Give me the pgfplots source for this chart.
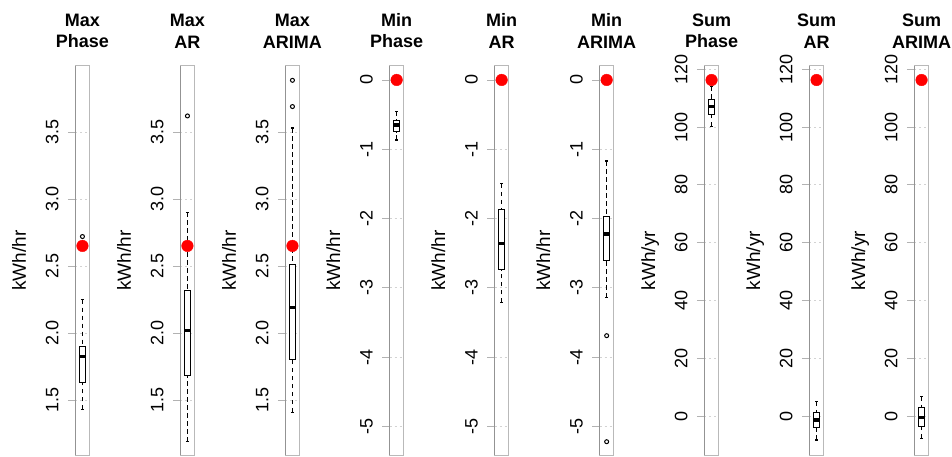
\documentclass[border=0pt]{standalone}
\usepackage{pgfplots}
\pgfplotsset{compat=1.18}
\usepgfplotslibrary{statistics}
\usepackage{fontspec}
\setmainfont{Liberation Sans}
\definecolor{rred}{RGB}{255,0,0}
\pgfplotsset{
  rpanel/.style={
    scale only axis, width=14.3pt, height=389.8pt,
    anchor=south west,
    xmin=0.5, xmax=1.5, xtick=\empty,
    ytick pos=left, tick align=outside, major tick length=7.5pt,
    every y tick/.style={gray!60, line width=0.9pt},
    ymajorgrids, major grid style={gray!35, line width=0.9pt, dash pattern=on 2pt off 3pt},
    axis line style={gray!55, line width=0.9pt},
    yticklabel style={rotate=90, anchor=base, inner sep=0pt, font=\fontsize{18}{18}\selectfont},
    yticklabel shift=9.5pt,
    ylabel style={at={(axis description cs:-3.45,0.5)}, anchor=base, inner sep=0pt, font=\fontsize{19}{19}\selectfont},
    title style={align=center, font=\bfseries\fontsize{18}{21.5}\selectfont, at={(axis description cs:0.5,1)}, anchor=south, inner sep=0pt, yshift=11.4pt},
    after end axis/.code={\draw[gray!85, line width=0.9pt] (axis description cs:0,0) -- (axis description cs:0,1);},
  },
  rbox/.style={
    boxplot/draw direction=y,
    boxplot/draw position=1,
    boxplot/box extend=0.42,
    boxplot/whisker extend=0.21,
    boxplot/every box/.style={draw=black, line width=1.1pt, fill=white},
    boxplot/every median/.style={draw=black, line width=3.4pt},
    boxplot/every whisker/.style={draw=black, line width=1.1pt, dash pattern=on 4.5pt off 3.5pt},
    boxplot/draw/lower whisker/.code={%
      \draw[/pgfplots/boxplot/every whisker/.try]
        (boxplot cs:\pgfplotsboxplotvalue{lower whisker}) -- (boxplot cs:\pgfplotsboxplotvalue{lower quartile});
      \draw[black, line width=1.1pt]
        (boxplot whisker cs:\pgfplotsboxplotvalue{lower whisker},0) -- (boxplot whisker cs:\pgfplotsboxplotvalue{lower whisker},1);
    },
    boxplot/draw/upper whisker/.code={%
      \draw[/pgfplots/boxplot/every whisker/.try]
        (boxplot cs:\pgfplotsboxplotvalue{upper whisker}) -- (boxplot cs:\pgfplotsboxplotvalue{upper quartile});
      \draw[black, line width=1.1pt]
        (boxplot whisker cs:\pgfplotsboxplotvalue{upper whisker},0) -- (boxplot whisker cs:\pgfplotsboxplotvalue{upper whisker},1);
    },
    black, mark=o, mark size=2pt, mark options={solid, black, line width=1pt},
  },
  rdot/.style={only marks, mark=*, mark size=5.8pt, color=rred, mark options={fill=rred, draw=rred}},
  maxax/.style={ymin=1.086, ymax=3.995, ytick={1.5,2,2.5,3,3.5}, yticklabels={1.5,2.0,2.5,3.0,3.5}, ylabel={kWh/hr}},
  minax/.style={ymin=-5.419, ymax=0.206, ytick={-5,-4,-3,-2,-1,0}, yticklabels={-5,-4,-3,-2,-1,0}, ylabel={kWh/hr}},
  sumax/.style={ymin=-13.67, ymax=121.25, ytick={0,20,40,60,80,100,120}, yticklabels={0,20,40,60,80,100,120}, ylabel={kWh/yr}},
}
\begin{document}
\begin{tikzpicture}
\useasboundingbox (0,0) rectangle (952pt,457pt);
% Max Phase
\begin{axis}[rpanel, maxax, at={(75.3pt,1.5pt)}, title={Max\\Phase}]
\addplot[rbox, boxplot prepared={lower whisker=1.43, lower quartile=1.63, median=1.825, upper quartile=1.90, upper whisker=2.25}] coordinates {(0,2.72)};
\addplot[rdot] coordinates {(1,2.65)};
\end{axis}
% Max AR
\begin{axis}[rpanel, maxax, at={(180.3pt,1.5pt)}, title={Max\\AR}]
\addplot[rbox, boxplot prepared={lower whisker=1.19, lower quartile=1.68, median=2.017, upper quartile=2.32, upper whisker=2.90}] coordinates {(0,3.62)};
\addplot[rdot] coordinates {(1,2.65)};
\end{axis}
% Max ARIMA
\begin{axis}[rpanel, maxax, at={(285.3pt,1.5pt)}, title={Max\\ARIMA}]
\addplot[rbox, boxplot prepared={lower whisker=1.41, lower quartile=1.80, median=2.19, upper quartile=2.51, upper whisker=3.53}] coordinates {(0,3.69) (0,3.886)};
\addplot[rdot] coordinates {(1,2.65)};
\end{axis}
% Min Phase
\begin{axis}[rpanel, minax, at={(389.5pt,1.5pt)}, title={Min\\Phase}]
\addplot[rbox, boxplot prepared={lower whisker=-0.866, lower quartile=-0.75, median=-0.65, upper quartile=-0.587, upper whisker=-0.45}] coordinates {};
\addplot[rdot] coordinates {(1,0)};
\end{axis}
% Min AR
\begin{axis}[rpanel, minax, at={(494.5pt,1.5pt)}, title={Min\\AR}]
\addplot[rbox, boxplot prepared={lower whisker=-3.21, lower quartile=-2.74, median=-2.36, upper quartile=-1.87, upper whisker=-1.50}] coordinates {};
\addplot[rdot] coordinates {(1,0)};
\end{axis}
% Min ARIMA
\begin{axis}[rpanel, minax, at={(599.5pt,1.5pt)}, title={Min\\ARIMA}]
\addplot[rbox, boxplot prepared={lower whisker=-3.14, lower quartile=-2.61, median=-2.22, upper quartile=-1.97, upper whisker=-1.17}] coordinates {(0,-3.69) (0,-5.22)};
\addplot[rdot] coordinates {(1,0)};
\end{axis}
% Sum Phase
\begin{axis}[rpanel, sumax, at={(704.4pt,1.5pt)}, title={Sum\\Phase}]
\addplot[rbox, boxplot prepared={lower whisker=100.3, lower quartile=104.5, median=107.1, upper quartile=109.6, upper whisker=114.2}] coordinates {};
\addplot[rdot] coordinates {(1,116.3)};
\end{axis}
% Sum AR
\begin{axis}[rpanel, sumax, at={(809.4pt,1.5pt)}, title={Sum\\AR}]
\addplot[rbox, boxplot prepared={lower whisker=-8.3, lower quartile=-4.0, median=-1.4, upper quartile=1.3, upper whisker=4.9}] coordinates {};
\addplot[rdot] coordinates {(1,116.3)};
\end{axis}
% Sum ARIMA
\begin{axis}[rpanel, sumax, at={(914.4pt,1.5pt)}, title={Sum\\ARIMA}]
\addplot[rbox, boxplot prepared={lower whisker=-7.7, lower quartile=-3.5, median=-0.45, upper quartile=3.0, upper whisker=6.7}] coordinates {};
\addplot[rdot] coordinates {(1,116.3)};
\end{axis}
\end{tikzpicture}
\end{document}
